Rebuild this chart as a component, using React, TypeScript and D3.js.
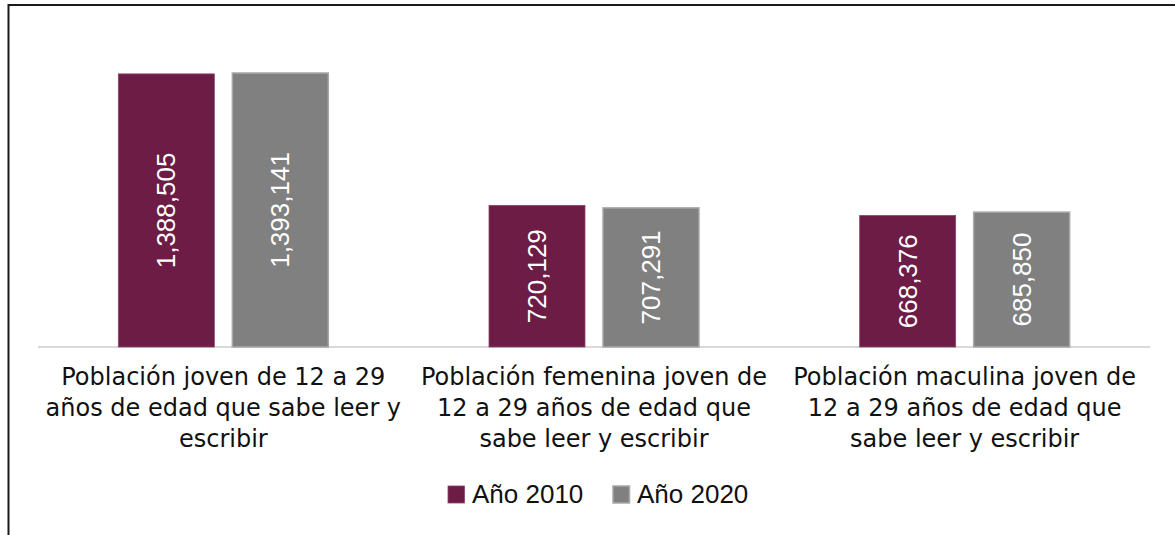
import React from "react";
import * as d3 from "d3";

const categories: string[][] = [
  ["Población joven de 12 a 29", "años de edad que sabe leer y", "escribir"],
  ["Población femenina joven de", "12 a 29 años de edad que", "sabe leer y escribir"],
  ["Población maculina joven de", "12 a 29 años de edad que", "sabe leer y escribir"],
];
const series = ["Año 2010", "Año 2020"];
const values2010 = [1388505, 720129, 668376];
const values2020 = [1393141, 707291, 685850];
const colors = ["#6d1c45", "#808080"];
const strokes = ["#8c4468", "#a8a8a8"];

const W = 1175;
const H = 535;

export default function App() {
  const catIdx = categories.map((_, i) => String(i));
  const x0 = d3
    .scaleBand<string>()
    .domain(catIdx)
    .range([38, 1150])
    .paddingInner(0.4335)
    .paddingOuter(0.4335 / 2);
  const x1 = d3
    .scaleBand<string>()
    .domain(series)
    .range([0, x0.bandwidth()])
    .paddingInner(18 / 114)
    .paddingOuter(0);
  const y = d3.scaleLinear().domain([0, 1600000]).range([347, 32.3]);
  const fmt = d3.format(",");
  const data = [values2010, values2020];

  return (
    <svg
      width={W}
      height={H}
      style={{ position: "absolute", left: 0, top: 0, background: "#fff" }}
    >
      <rect x={0} y={0} width={W} height={H} fill="#fff" />
      {/* frame */}
      <line x1={8} x2={W} y1={5} y2={5} stroke="#1a1a1a" strokeWidth={2} />
      <line x1={8.5} x2={8.5} y1={4} y2={H} stroke="#1a1a1a" strokeWidth={2} />
      {/* baseline */}
      <line x1={38} x2={1150} y1={347} y2={347} stroke="#d9d9d9" strokeWidth={2} />
      {catIdx.map((c, ci) => (
        <g key={c} transform={`translate(${x0(c)},0)`}>
          {series.map((s, si) => {
            const v = data[si][ci];
            const bx = x1(s)!;
            const by = y(v);
            const bh = y(0) - by;
            const cx = bx + x1.bandwidth() / 2;
            const cy = by + bh / 2;
            return (
              <g key={s}>
                <rect
                  x={bx}
                  y={by}
                  width={x1.bandwidth()}
                  height={bh}
                  fill={colors[si]}
                  stroke={strokes[si]}
                  strokeWidth={si === 1 ? 1.5 : 0.8}
                />
                <text
                  transform={`translate(${cx},${cy}) rotate(-90)`}
                  textAnchor="middle"
                  dominantBaseline="central"
                  fill="#fff"
                  fontFamily="'Liberation Sans', Arial, sans-serif"
                  fontSize={26}
                >
                  {fmt(v)}
                </text>
              </g>
            );
          })}
        </g>
      ))}
      {categories.map((lines, ci) =>
        lines.map((l, li) => (
          <text
            key={`${ci}-${li}`}
            x={x0(String(ci))! + x0.bandwidth() / 2}
            y={385 + li * 31}
            textAnchor="middle"
            fill="#111"
            fontFamily="'DejaVu Sans', sans-serif"
            fontSize={24}
          >
            {l}
          </text>
        ))
      )}
      {/* legend */}
      {series.map((s, si) => {
        const lx = [448, 613][si];
        return (
          <g key={s}>
            <rect
              x={lx}
              y={486}
              width={16.5}
              height={17}
              fill={colors[si]}
              stroke={strokes[si]}
              strokeWidth={si === 1 ? 1.5 : 0.8}
            />
            <text
              x={lx + 24}
              y={503}
              fill="#111"
              fontFamily="'Liberation Sans', Arial, sans-serif"
              fontSize={26}
            >
              {s}
            </text>
          </g>
        );
      })}
    </svg>
  );
}
